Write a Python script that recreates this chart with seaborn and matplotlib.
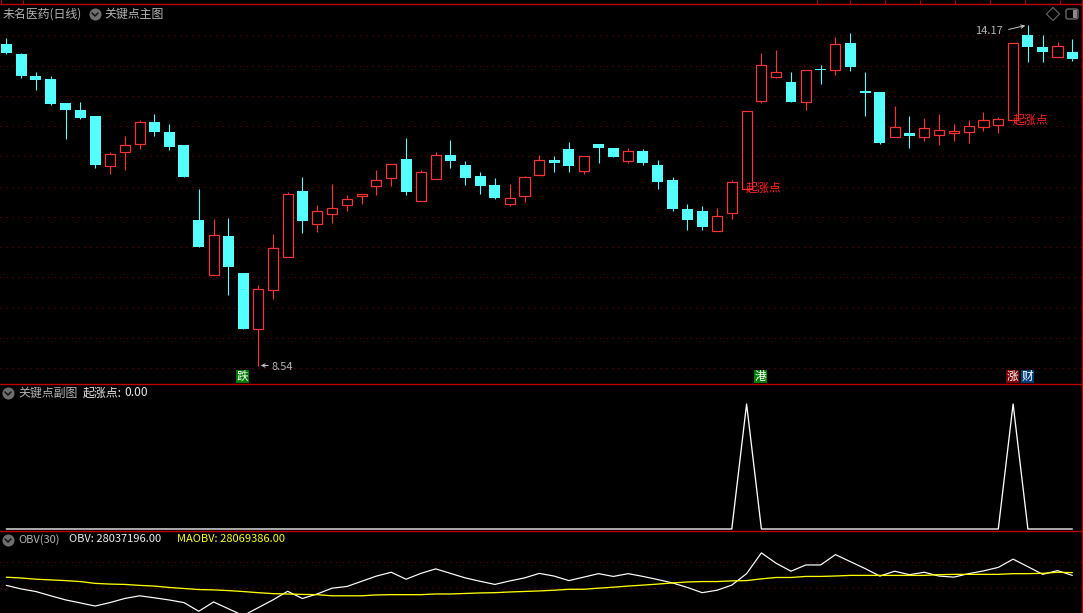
import numpy as np
import pandas as pd
import seaborn as sns
import matplotlib
matplotlib.use("Agg")
import matplotlib.pyplot as plt
from matplotlib.patches import FancyBboxPatch, Rectangle

# candles (price units)
high = [13.95, 13.71, 13.39, 13.33, 12.88, 12.90, 12.67, 12.07, 12.33, 12.60, 12.70, 12.53, 12.19,
        11.46, 10.96, 10.98, 10.07, 9.87, 10.71, 11.41, 11.66, 11.19, 11.54, 11.36, 11.38, 11.77,
        11.87, 12.30, 11.77, 12.07, 12.27, 11.92, 11.74, 11.64, 11.54, 11.67, 12.02, 12.00, 12.24,
        12.00, 12.20, 12.14, 12.14, 12.12, 11.94, 11.66, 11.21, 11.18, 11.15, 11.61, 12.75, 13.71,
        13.76, 13.39, 13.43, 13.51, 13.97, 14.04, 13.39, 13.06, 12.83, 12.67, 12.63, 12.70, 12.53,
        12.60, 12.73, 12.65, 13.87, 14.17, 14.00, 13.89, 13.94]
body_top = [13.86, 13.69, 13.33, 13.28, 12.88, 12.76, 12.67, 12.04, 12.19, 12.57, 12.57, 12.40, 12.19,
            10.95, 10.70, 10.68, 10.07, 9.81, 10.48, 11.38, 11.43, 11.10, 11.15, 11.29, 11.38, 11.61,
            11.87, 11.95, 11.74, 12.02, 12.02, 11.86, 11.67, 11.52, 11.31, 11.66, 11.94, 11.94, 12.12,
            12.00, 12.20, 12.14, 12.09, 12.09, 11.86, 11.61, 11.13, 11.10, 11.01, 11.57, 12.75, 13.51,
            13.39, 13.23, 13.43, 13.44, 13.86, 13.87, 13.08, 13.06, 12.48, 12.38, 12.47, 12.43, 12.42,
            12.50, 12.60, 12.62, 13.87, 14.00, 13.81, 13.82, 13.72]
body_bottom = [13.71, 13.33, 13.26, 12.86, 12.76, 12.63, 11.86, 11.84, 12.07, 12.20, 12.40, 12.15, 11.66,
               10.50, 10.04, 10.17, 9.15, 9.15, 9.79, 10.33, 10.93, 10.88, 11.05, 11.19, 11.34, 11.51,
               11.64, 11.41, 11.26, 11.62, 11.92, 11.64, 11.51, 11.31, 11.21, 11.34, 11.69, 11.89, 11.84,
               11.76, 12.14, 11.99, 11.92, 11.89, 11.57, 11.13, 10.95, 10.83, 10.76, 11.06, 11.46, 12.91,
               13.31, 12.90, 12.90, 13.43, 13.43, 13.48, 13.05, 12.22, 12.32, 12.33, 12.32, 12.35, 12.38,
               12.40, 12.48, 12.52, 12.60, 13.81, 13.72, 13.64, 13.61]
low = [13.69, 13.29, 13.10, 12.85, 12.29, 12.62, 11.81, 11.71, 11.77, 12.12, 12.33, 12.10, 11.66,
       10.50, 10.04, 9.71, 9.15, 8.54, 9.64, 10.33, 10.73, 10.75, 10.90, 11.10, 11.21, 11.36,
       11.51, 11.36, 11.26, 11.62, 11.81, 11.52, 11.38, 11.29, 11.18, 11.24, 11.69, 11.74, 11.74,
       11.71, 11.89, 11.99, 11.89, 11.86, 11.46, 11.10, 10.78, 10.78, 10.76, 10.96, 11.46, 12.88,
       13.29, 12.90, 12.76, 13.20, 13.34, 13.41, 12.67, 12.20, 12.32, 12.14, 12.25, 12.19, 12.25,
       12.22, 12.42, 12.38, 12.60, 13.56, 13.56, 13.64, 13.57]
# 1 = red hollow candle, 0 = cyan filled
rising = [0, 0, 0, 0, 0, 0, 0, 1, 1, 1, 0, 0, 0,
          0, 1, 0, 0, 1, 1, 1, 0, 1, 1, 1, 1, 1,
          1, 0, 1, 1, 0, 0, 0, 0, 1, 1, 1, 0, 0,
          1, 0, 0, 1, 0, 0, 0, 0, 0, 1, 1, 1, 1,
          1, 0, 1, 0, 1, 0, 0, 0, 1, 0, 1, 1, 1,
          1, 1, 1, 1, 0, 0, 1, 0]
price_grid = [8.5, 9.0, 9.5, 10.0, 10.5, 11.0, 11.5, 12.0, 12.5, 13.0, 13.5, 14.0]

# 起涨点 signal
signal = [0] * 73
signal[50] = 1
signal[68] = 1

# OBV / MAOBV in units of 10000
obv = [2792.2, 2788.1, 2785.1, 2780.2, 2775.5, 2772.0, 2768.4, 2772.4, 2777.1, 2780.2, 2777.9, 2775.4,
       2772.4, 2762.4, 2773.1, 2765.3, 2757.4, 2766.4, 2775.4, 2785.4, 2777.1, 2782.3, 2789.0, 2790.9,
       2796.9, 2802.9, 2807.3, 2799.3, 2806.0, 2811.2, 2806.0, 2800.8, 2796.9, 2793.3, 2797.3, 2800.8,
       2806.0, 2802.9, 2797.7, 2801.7, 2805.7, 2802.5, 2805.7, 2802.5, 2798.9, 2795.0, 2789.8, 2783.8,
       2786.6, 2792.5, 2805.7, 2829.6, 2817.6, 2808.5, 2815.7, 2815.7, 2827.6, 2819.6, 2811.6, 2802.9,
       2808.5, 2804.5, 2807.3, 2802.9, 2801.7, 2805.7, 2808.9, 2812.9, 2822.4, 2813.7, 2804.9, 2809.2,
       2803.7]
maobv = [2801.6, 2800.7, 2799.3, 2798.5, 2797.7, 2796.6, 2794.5, 2793.7, 2793.3, 2792.2, 2791.4, 2789.8,
         2788.6, 2787.4, 2787.0, 2786.2, 2785.1, 2783.8, 2782.7, 2782.3, 2781.8, 2781.5, 2780.2, 2780.2,
         2780.2, 2781.2, 2781.5, 2781.5, 2781.5, 2782.3, 2782.3, 2782.9, 2783.5, 2783.8, 2784.6, 2785.2,
         2785.8, 2786.6, 2787.7, 2787.7, 2789.0, 2790.1, 2791.4, 2792.5, 2793.7, 2795.0, 2796.1, 2796.6,
         2796.6, 2797.4, 2797.7, 2799.7, 2801.3, 2801.3, 2802.5, 2802.5, 2803.0, 2803.7, 2803.7, 2803.7,
         2803.7, 2803.7, 2803.7, 2804.5, 2804.9, 2804.9, 2804.9, 2804.9, 2805.7, 2805.7, 2806.1, 2807.3,
         2806.9]
obv_grid = [2789.6, 2819.1]

RED = "#ff3232"
CYAN = "#54ffff"
LINE = "#c00000"
DOT = "#8c0000"
PX = 0.72  # one pixel in points
W, H = 1083, 613

sns.set_theme(style="dark", rc={"figure.facecolor": "black", "axes.facecolor": "black",
                                "savefig.facecolor": "black"})
plt.rcParams["font.family"] = ["Noto Sans CJK SC", "DejaVu Sans"]

df = pd.DataFrame({"i": range(73), "high": high, "top": body_top, "bottom": body_bottom, "low": low,
                   "rising": rising, "signal": signal, "obv": obv, "maobv": maobv})

fig = plt.figure(figsize=(W / 100, H / 100), dpi=100)


def panel(y0, y1):
    # y0, y1 are pixel rows counted from the top
    ax = fig.add_axes([0, 1 - y1 / H, 1081.5 / W, (y1 - y0) / H])
    ax.set_xlim(-0.4255, 72.62)
    ax.set_xticks([])
    for s in ax.spines.values():
        s.set_visible(False)
    ax.set_xlabel("")
    ax.set_ylabel("")
    return ax


# main candle panel
ax = panel(5, 384.3)
ax.set_ylim(8.231, 14.5)
ax.hlines(price_grid, -0.4255, 72.62, color=DOT, lw=PX, ls=(0, (1, 5)), zorder=1)
up = df[df["rising"] == 1]
down = df[df["rising"] == 0]
ax.vlines(up["i"], up["low"], up["high"], color=RED, lw=PX * 1.1, zorder=2)
ax.vlines(down["i"], down["low"], down["high"], color=CYAN, lw=PX * 1.1, zorder=2)
ax.bar(up["i"], up["top"] - up["bottom"], bottom=up["bottom"], width=0.68,
       facecolor="black", edgecolor=RED, lw=PX * 1.2, zorder=3)
ax.bar(down["i"], down["top"] - down["bottom"], bottom=down["bottom"], width=0.74,
       color=CYAN, lw=0, zorder=3)
ax.yaxis.tick_right()
ax.set_yticks(np.arange(8.5, 14.5, 0.25))
ax.tick_params(axis="y", length=1.5, width=PX, color=LINE, labelright=False)

# signal panel
ax2 = panel(385, 531)
ax2.set_ylim(-0.016, 1.152)
sns.lineplot(data=df, x="i", y="signal", color="white", lw=PX * 1.3, ax=ax2, errorbar=None, legend=False)
ax2.set_xlabel("")
ax2.set_ylabel("")
ax2.set_xticks([])
ax2.yaxis.tick_right()
ax2.set_yticks([0, 0.25, 0.5, 0.75, 1.0])
ax2.tick_params(axis="y", length=1.5, width=PX, color=LINE, labelright=False)

# OBV panel
ax3 = panel(531, 613)
ax3.set_ylim(2760.4, 2854.8)
ax3.hlines(obv_grid, -0.4255, 72.62, color=DOT, lw=PX, ls=(0, (1, 5)), zorder=1)
sns.lineplot(data=df, x="i", y="obv", color="white", lw=PX * 1.2, ax=ax3, errorbar=None, legend=False, zorder=2)
sns.lineplot(data=df, x="i", y="maobv", color="#ffff00", lw=PX * 1.3, ax=ax3, errorbar=None, legend=False, zorder=3)
ax3.set_xlabel("")
ax3.set_ylabel("")
ax3.set_xticks([])
ax3.yaxis.tick_right()
ax3.set_yticks(obv_grid)
ax3.tick_params(axis="y", length=1.5, width=PX, color=LINE, labelright=False)

# overlay in pixel coordinates for frame, headers and badges
ov = fig.add_axes([0, 0, 1, 1], facecolor="none")
ov.set_xlim(0, W)
ov.set_ylim(H, 0)
ov.set_axis_off()

ov.hlines([4.4, 384.4, 531.3], 0, W, color=LINE, lw=PX * 1.4)
ov.vlines(1081.7, 0, H, color=LINE, lw=PX * 1.4)
ov.vlines([1, 23, 817, 850, 885, 920, 955, 990, 1025, 1060], 0, 4.4, color=LINE, lw=PX)


def label(x, y, s, color="#b4b4b4", size=8.6, **kw):
    ov.text(x, y, s, color=color, fontsize=size, va="center", ha=kw.pop("ha", "left"), **kw)


def chevron(x, y):
    ov.scatter([x], [y], s=75, color="#6e6e6e", lw=0)
    ov.plot([x - 3, x, x + 3], [y - 1, y + 2, y - 1], color="#111111", lw=1.1)


label(3, 14, "未名医药(日线)")
chevron(95, 14)
label(104, 14, "关键点主图")

chevron(8, 393)
label(18, 393, "关键点副图")
label(83, 393, "起涨点:", color="#e6e6e6")
label(124, 393, "0.00", color="#e6e6e6")

chevron(8, 540)
label(18, 539.5, "OBV(30)", size=8)
label(69, 539.5, "OBV: 28037196.00", color="#f0f0f0", size=8)
label(177, 539.5, "MAOBV: 28069386.00", color="#ffff00", size=8)

# price extremes and signal text
label(271, 367, "8.54", size=8)
ov.annotate("", xy=(258, 365.5), xytext=(271, 365.5),
            arrowprops=dict(arrowstyle="->", color="#c8c8c8", lw=0.7, mutation_scale=6))
label(975, 31, "14.17", size=8)
ov.annotate("", xy=(1028, 25), xytext=(1006, 30),
            arrowprops=dict(arrowstyle="->", color="#c8c8c8", lw=0.7, mutation_scale=6))
label(746, 188, "起涨点", color="#ff2020", size=8.6)
label(1013, 120, "起涨点", color="#ff2020", size=8.6)

# bottom badges
for x, s, c in [(236, "跌", "#007a00"), (754, "港", "#007a00"), (1006, "涨", "#780000"), (1021, "财", "#003c78")]:
    ov.add_patch(Rectangle((x, 370), 13, 13, facecolor=c, lw=0))
    ov.text(x + 6.5, 376.5, s, color="white", fontsize=8.4, ha="center", va="center")

# top right icons
ov.scatter([1053], [14], marker="D", s=45, facecolor="none", edgecolor="#666666", lw=0.8)
ov.add_patch(FancyBboxPatch((1067, 10), 10, 8, boxstyle="round,pad=1,rounding_size=2",
                            facecolor="none", edgecolor="#666666", lw=1))
ov.add_patch(Rectangle((1073, 10), 4, 8, facecolor="#888888", lw=0))

fig.savefig("out.png", dpi=100)
